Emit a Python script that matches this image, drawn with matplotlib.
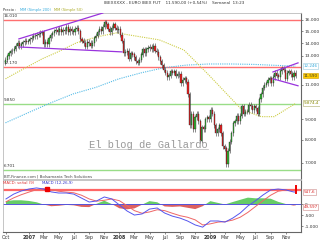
import numpy as np
import pandas as pd
import matplotlib
matplotlib.use('Agg')
import matplotlib.pyplot as plt
import matplotlib.dates as mdates
from matplotlib.ticker import FixedLocator, FuncFormatter, NullLocator

# Weekly closes, IBEX futures (Sep 2006 - Dec 2009)
closes = [
    12700, 12950, 13200, 13350, 13400, 13550, 13800, 14000, 13750, 13900, 14050, 14200, 14100, 14150,
    14300, 14450, 14600, 14550, 14700, 14750, 14850, 14900, 13900, 14100, 13900, 14400, 14640,
    14800, 15000, 15100, 14900, 15200, 14900, 15100, 15000, 15400, 14900, 15200, 15000, 14900,
    15200, 15300, 15000, 14300, 14200, 14000, 13700, 14100, 14000, 13800, 14000, 14400, 14600,
    14900, 15200, 15000, 15400, 15800, 15600, 15200, 14900, 15300, 15600, 15300, 15100, 15180,
    14700, 14200, 13200, 13300, 13400, 12800, 13200, 13100, 12900, 12600, 12500, 12700, 13100,
    13500, 13200, 13500, 13600, 13700, 13500, 13800, 13400, 13300, 12900, 12600, 12300, 12000,
    11800, 11500, 11600, 11900, 11800, 11900, 11600, 11700, 11700, 11100, 11300, 11400, 11200,
    10400, 8700, 9300, 8500, 9100, 9300, 8900, 7950, 8600, 8500, 9000, 9100, 9000,
    9500, 9300, 8700, 8300, 8500, 8700, 8300, 7700, 7600, 6950, 7500, 7900, 8300,
    8800, 8900, 9200, 8900, 9200, 9700, 9300, 9400, 9400, 9800, 9700, 9500, 9700,
    9600, 9300, 10100, 10400, 10800, 11000, 11100, 11300, 11400, 11100, 11500, 11800, 11600,
    11500, 11900, 12100, 12000, 11400, 11800, 11900, 11700, 11500, 11800, 11590,
]
first_open = 12500
weeks = pd.date_range('2006-09-29', periods=len(closes), freq='W-FRI')

# Moving averages
ma_dates = pd.to_datetime(['2006-09-29', '2006-12-29', '2007-03-30', '2007-06-29', '2007-09-28',
                           '2007-12-28', '2008-03-28', '2008-06-27', '2008-09-26', '2008-12-26',
                           '2009-03-27', '2009-06-26', '2009-09-25', '2009-12-11'])
ma200 = [8820, 9350, 9900, 10430, 10830, 11370, 11780, 12130, 12320, 12400, 12400, 12370, 12300, 12246]

ma50_dates = pd.to_datetime(['2006-09-29', '2006-11-24', '2007-02-23', '2007-04-28', '2007-07-12',
                             '2007-10-01', '2007-12-20', '2008-02-09', '2008-06-09', '2008-09-16',
                             '2008-10-27', '2008-12-26', '2009-05-08', '2009-07-25', '2009-09-15',
                             '2009-12-11'])
ma50 = [11380, 11900, 12770, 13300, 14020, 14500, 14850, 14670, 14260, 13450,
        12690, 11630, 9510, 9140, 9140, 9874]

# Horizontal levels
levels = [16010, 12170, 9850, 6701]
level_labels = ['16.010', '12.170', '9.850', '6.701']
level_colors = ['#ff7070', '#ff7070', '#99dd88', '#99dd88']

# Trend lines (start, end)
trend_dates = [('2006-11-22', '2007-10-26'), ('2006-11-26', '2008-01-11'),
               ('2009-09-10', '2009-12-20'), ('2009-09-10', '2009-12-20')]
trend_values = [(14340, 16660), (13680, 13300), (11840, 12480), (11380, 10930)]

# MACD (12,26,9), monthly readings
macd_dates = list(pd.date_range('2006-10-01', '2009-12-01', freq='MS')) + [pd.Timestamp('2009-12-11')]
macd = [230, 450, 590, 680, 730, 680, 550, 500, 500, 450, 270, 90, 140, 320, 230,
        -45, -320, -500, -450, -230, -180, -410, -550, -640, -770, -950, -1050,
        -770, -770, -820, -640, -410, -90, 140, 410, 640, 680, 640, 550, 540]
signal = [100, 280, 420, 540, 650, 700, 650, 580, 540, 510, 400, 230, 130, 170, 230,
          150, -80, -300, -420, -360, -260, -300, -420, -530, -600, -720, -950,
          -900, -820, -800, -730, -600, -380, -120, 150, 400, 580, 640, 620, 600]

tick_dates = ['2006-10-01', '2007-01-01', '2007-03-01', '2007-05-01', '2007-07-01', '2007-09-01',
              '2007-11-01', '2008-01-01', '2008-03-01', '2008-05-01', '2008-07-01', '2008-09-01',
              '2008-11-01', '2009-01-01', '2009-03-01', '2009-05-01', '2009-07-01', '2009-09-01',
              '2009-11-01']
tick_labels = ['Oct', '2007', 'Mar', 'May', 'Jul', 'Sep', 'Nov', '2008', 'Mar', 'May', 'Jul', 'Sep',
               'Nov', '2009', 'Mar', 'May', 'Jul', 'Sep', 'Nov']

W, H = 320, 240
fig = plt.figure(figsize=(3.2, 2.4), dpi=100)
ax = fig.add_axes([3 / W, 1 - 179 / H, 298 / W, 166 / H])
ax2 = fig.add_axes([3 / W, 1 - 232 / H, 298 / W, 52 / H], sharex=ax)

# candles
opens = [first_open] + closes[:-1]
o = np.array(opens, float)
c = np.array(closes, float)
wick = 0.015
hi = np.maximum(o, c) * (1 + wick)
lo = np.minimum(o, c) * (1 - wick)
cols = np.where(c >= o, '#33b033', '#ee2020')
ax.vlines(weeks, lo, hi, color='#333333', lw=0.4, zorder=3)
ax.bar(weeks, np.abs(c - o) + 1, bottom=np.minimum(o, c), width=4.5, color=cols,
       edgecolor='#222222', linewidth=0.25, zorder=4)

ax.plot(ma_dates, ma200, color='#55bbe6', lw=0.8, ls=(0, (1, 1)), zorder=2)
ax.plot(ma50_dates, ma50, color='#cccc44', lw=0.8, ls=(0, (1, 1)), zorder=2)

for lv, lab, col in zip(levels, level_labels, level_colors):
    ax.axhline(lv, color=col, lw=1.0, zorder=1)
    ax.annotate(lab, (0.003, lv), xycoords=('axes fraction', 'data'), xytext=(0, 1.5),
                textcoords='offset points', fontsize=3, color='#333333', va='bottom')

for (d0, d1), (v0, v1) in zip(trend_dates, trend_values):
    ax.plot(pd.to_datetime([d0, d1]), [v0, v1], color='#9933dd', lw=0.9, zorder=5,
            clip_on=True)

ax.set_yscale('log')
ax.set_ylim(6370, 16660)
ax.set_xlim(pd.Timestamp('2006-09-19'), pd.Timestamp('2010-01-01'))
ax.yaxis.tick_right()
ax.yaxis.set_major_locator(FixedLocator([7000, 8000, 9000, 11000, 13000, 14000, 15000, 16000]))
ax.yaxis.set_minor_locator(NullLocator())
ax.yaxis.set_major_formatter(FuncFormatter(lambda v, p: f"{v:,.0f}".replace(',', '.')))
ax.tick_params(axis='y', labelsize=3.2, length=1.5, width=0.4, pad=1, colors='#333333')
ax.tick_params(axis='x', bottom=False, labelbottom=False)
for s in ['top', 'left', 'bottom']:
    ax.spines[s].set_color('#bbbbbb')
    ax.spines[s].set_linewidth(0.6)
ax.spines['right'].set_color('#666666')
ax.spines['right'].set_linewidth(0.8)

# value boxes on the right
def box(a, val, txt, fc, ec, tc):
    a.annotate(txt, (1.008, val), xycoords=('axes fraction', 'data'), fontsize=3, color=tc,
               va='center', ha='left', annotation_clip=False,
               bbox=dict(boxstyle='square,pad=0.2', fc=fc, ec=ec, lw=0.4))

box(ax, 12246, '12.246', 'white', '#99ccdd', '#33aadd')
box(ax, 11590, '11.590', '#ffcc00', '#cc9900', '#333333')
box(ax, 9874, '9.874,4', 'white', '#aaaa66', '#888800')

ax.text(0.005, 0.005, 'BIT-Finance.com | Bolsamania Tech Solutions', transform=ax.transAxes,
        fontsize=2.8, color='#444444', va='bottom')
fig.text(148 / W, 1 - 145 / H, 'El blog de Gallardo', family='Liberation Mono', fontsize=7.5,
         color='#999999', ha='center', va='center')
fig.add_artist(plt.Line2D([88 / W, 208 / W], [1 - 148.5 / H] * 2, color='#bbbbbb', lw=0.5))

# header texts
fig.text(174 / W, 1 - 3.5 / H, 'IBEXXXXX - EURO IBEX FUT    11.590,00 (+0,54%)    Semanal  13:23',
         fontsize=3, color='#333333', ha='center', va='center')
fig.text(3 / W, 1 - 10 / H, 'Precio :', fontsize=2.6, color='#333333', va='center')
fig.text(20 / W, 1 - 10 / H, 'MM (Simple 200)', fontsize=2.6, color='#33aadd', va='center')
fig.text(54 / W, 1 - 10 / H, 'MM (Simple 50)', fontsize=2.6, color='#aaaa22', va='center')

# MACD panel
macd_a = np.array(macd, float)
sig_a = np.array(signal, float)
hist = macd_a - sig_a
ax2.fill_between(macd_dates, 0, hist, where=hist >= 0, interpolate=True, color='#66cc66', lw=0)
ax2.fill_between(macd_dates, 0, hist, where=hist <= 0, interpolate=True, color='#dd6060', lw=0)
ax2.axhline(640, color='#ff6666', lw=1.6, zorder=1)
ax2.axhline(0, color='#5555dd', lw=0.7)
ax2.plot(macd_dates, signal, color='#ee6666', lw=0.7)
ax2.plot(macd_dates, macd, color='#5555ee', lw=0.7)
ax2.plot([pd.Timestamp('2007-03-15')], [680], marker='s', ms=2.2, color='#ee0000')
ax2.plot([pd.Timestamp('2009-12-11')] * 2, [480, 800], color='#ee0000', lw=1.4)
ax2.set_ylim(-1270, 1090)
ax2.yaxis.tick_right()
ax2.yaxis.set_major_locator(FixedLocator([-1000, -500, 0]))
ax2.yaxis.set_major_formatter(FuncFormatter(lambda v, p: f"{v:,.0f}".replace(',', '.')))
ax2.tick_params(axis='y', labelsize=3.2, length=1.5, width=0.4, pad=1, colors='#333333')
ax2.xaxis.set_major_locator(FixedLocator(mdates.date2num(pd.to_datetime(tick_dates))))
ax2.xaxis.set_minor_locator(NullLocator())
ax2.set_xticklabels(tick_labels)
ax2.tick_params(axis='x', labelsize=3.4, length=1.5, width=0.4, pad=1, colors='#333333')
for lab in ax2.get_xticklabels():
    if lab.get_text().startswith('20'):
        lab.set_fontweight('bold')
for s in ['top', 'left']:
    ax2.spines[s].set_color('#bbbbbb')
    ax2.spines[s].set_linewidth(0.6)
ax2.spines['right'].set_color('#666666')
ax2.spines['bottom'].set_color('#666666')
ax2.spines['right'].set_linewidth(0.8)
ax2.spines['bottom'].set_linewidth(0.8)

box(ax2, 547.6, '547,6', 'white', '#cc8888', '#dd2222')
box(ax2, -140, '49,597', 'white', '#cc8888', '#dd2222')

fig.text(3 / W, 1 - 183 / H, 'MACD: señal (9)', fontsize=2.8, color='#dd3333', va='center')
fig.text(42 / W, 1 - 183 / H, 'MACD (12,26,9)', fontsize=2.8, color='#3333cc', va='center')

fig.savefig('out.png', dpi=100)
